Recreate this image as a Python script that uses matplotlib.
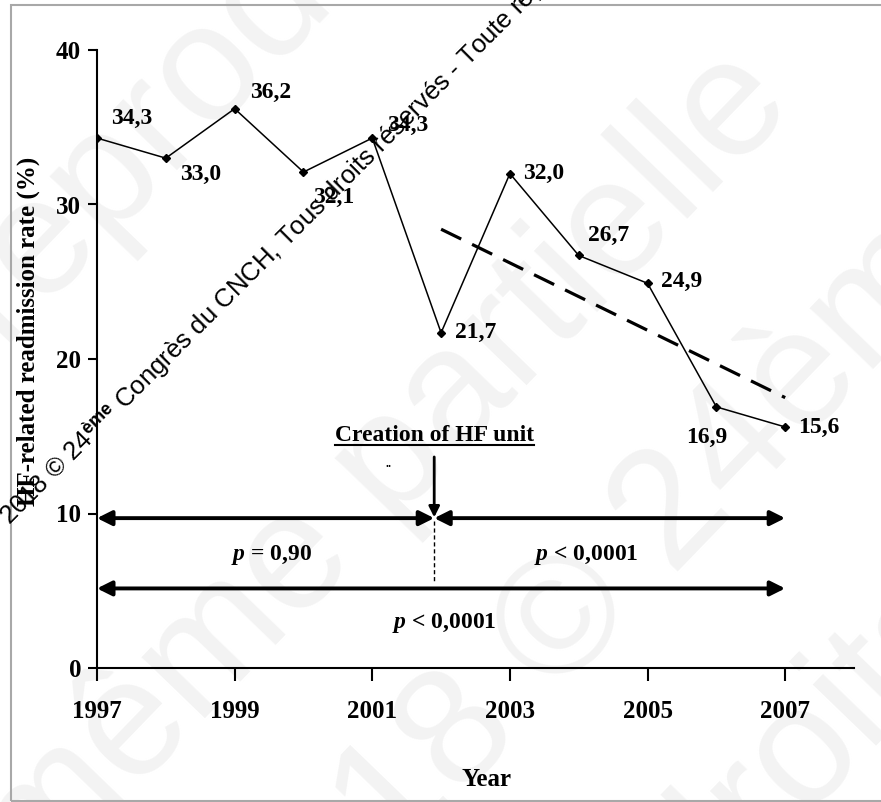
import matplotlib
matplotlib.use("Agg")
import matplotlib.pyplot as plt
from matplotlib.patches import Rectangle
from matplotlib.lines import Line2D

# readmission data
years = [1997, 1998, 1999, 2000, 2001, 2002, 2003, 2004, 2005, 2006, 2007]
rates = [34.3, 33.0, 36.2, 32.1, 34.3, 21.7, 32.0, 26.7, 24.9, 16.9, 15.6]
rate_labels = [f"{v:.1f}".replace(".", ",") for v in rates]

trend_years = [2002, 2007]
trend_rates = [28.4, 17.5]

hf_unit_year = 2001.9
periods = [(1997, hf_unit_year), (hf_unit_year, 2007), (1997, 2007)]
p_texts = ["= 0,90", "< 0,0001", "< 0,0001"]

x_ticks = [1997, 1999, 2001, 2003, 2005, 2007]
y_ticks = [0, 10, 20, 30, 40]

# label offsets in pixels (dx, dy, ha)
label_offsets = [(14, 20, "left"), (14, -16, "left"), (15, 16, "left"),
                 (10, -25, "left"), (15, 13, "left"), (14, 0, "left"),
                 (13, 0, "left"), (9, 20, "left"), (13, 2, "left"),
                 (-10, -31, "center"), (13, 0, "left")]

plt.rcParams.update({
    "font.family": "Liberation Serif", "font.weight": "bold",
    "axes.labelweight": "bold",
    "mathtext.fontset": "custom", "mathtext.it": "Liberation Serif:italic",
    "mathtext.rm": "Liberation Sans",
})

W, H = 881, 802
fig = plt.figure(figsize=(W / 100, H / 100), dpi=100)

def fpos(px, py):
    return px / W, 1 - py / H

# faint background watermark
wm_color = "#f3f3f3"
for txt, (cx, cy) in [("reproduction", (290, -20)), ("même partielle", (385, 470)),
                      ("2018 © 24ème", (615, 575)), ("droits", (810, 745))]:
    fig.text(*fpos(cx, cy), txt, fontsize=120, family="Liberation Sans",
             fontweight="normal", color=wm_color, rotation=46,
             rotation_mode="anchor", ha="center", va="center", zorder=-5)

ax = fig.add_axes([97 / W, 134 / H, 757 / W, 618 / H])
ax.patch.set_alpha(0)
ax.set_xlim(1997, 2008)
ax.set_ylim(0, 40)
for s in ["top", "right"]:
    ax.spines[s].set_visible(False)
for s in ["left", "bottom"]:
    ax.spines[s].set_linewidth(1.5)

ax.set_xticks(x_ticks)
ax.set_yticks(y_ticks)
ax.tick_params(axis="x", direction="out", length=9, width=1.5, pad=14, labelsize=18)
ax.tick_params(axis="y", direction="out", length=6.5, width=1.5, pad=5, labelsize=18)

ax.plot(years, rates, color="black", lw=1.1, marker="D", ms=4, zorder=3)
ax.plot(trend_years, trend_rates, color="black", lw=2.3, dashes=(7, 3.8), zorder=3)

for x, y, lab, (dx, dy, ha) in zip(years, rates, rate_labels, label_offsets):
    ax.annotate(lab, (x, y), xytext=(dx, dy), textcoords="offset pixels",
                ha=ha, va="center", fontsize=17)

# period arrows
arrow_y = [9.7, 9.7, 5.15]
for (x0, x1), y in zip(periods, arrow_y):
    ax.annotate("", xy=(x1, y), xytext=(x0, y),
                arrowprops=dict(arrowstyle="<|-|>", lw=2.8, color="black",
                                mutation_scale=22, shrinkA=0, shrinkB=0))

# p-values
p_pos = [(1999.54, 7.0), (2004.11, 7.0), (2002.04, 2.6)]
for (px, py), t in zip(p_pos, p_texts):
    ax.text(px, py, r"$\mathit{p}$ " + t, ha="center", va="baseline", fontsize=17)

# HF unit creation marker
ax.annotate("", xy=(hf_unit_year, 9.75), xytext=(hf_unit_year, 13.66),
            arrowprops=dict(arrowstyle="-|>", lw=2, color="black",
                            mutation_scale=16, shrinkA=0, shrinkB=0))
ax.plot([hf_unit_year, hf_unit_year], [9.5, 5.5], color="black", lw=1,
        dashes=(3, 2))
title = ax.text(hf_unit_year, 14.7, "Creation of HF unit", ha="center",
                va="baseline", fontsize=17)
ax.text(2001.24, 13.2, "..", ha="center", va="center", fontsize=9)

ax.set_xlabel("Year", fontsize=18)
ax.xaxis.set_label_coords(0.515, -0.162)
ax.set_ylabel("HF-related readmission rate (%)", fontsize=18)
ax.yaxis.set_label_coords(-0.075, 0.545)

# grey frame
fig.add_artist(Rectangle(fpos(11, 801), 2, 796 / H, transform=fig.transFigure,
                         fill=False, ec="#a8a8a8", lw=1.5, zorder=-4))

# dark watermark line
fig.text(*fpos(10, 526),
         r"2018 © 24$^{\rm ème}$ Congrès du CNCH, Tous droits réservés - Toute reproduction",
         fontsize=18.5, family="Liberation Sans", fontweight="normal",
         color="black", rotation=45, rotation_mode="anchor", ha="left",
         va="baseline", zorder=10)

# underline the HF unit title
fig.canvas.draw()
bb = title.get_window_extent()
inv = fig.transFigure.inverted()
(x0, y0), (x1, _) = inv.transform([(bb.x0, bb.y0 + 1), (bb.x1, bb.y0 + 1)])
fig.add_artist(Line2D([x0, x1], [y0, y0], color="black", lw=1.5,
                      transform=fig.transFigure))

fig.savefig("out.png", dpi=100)
